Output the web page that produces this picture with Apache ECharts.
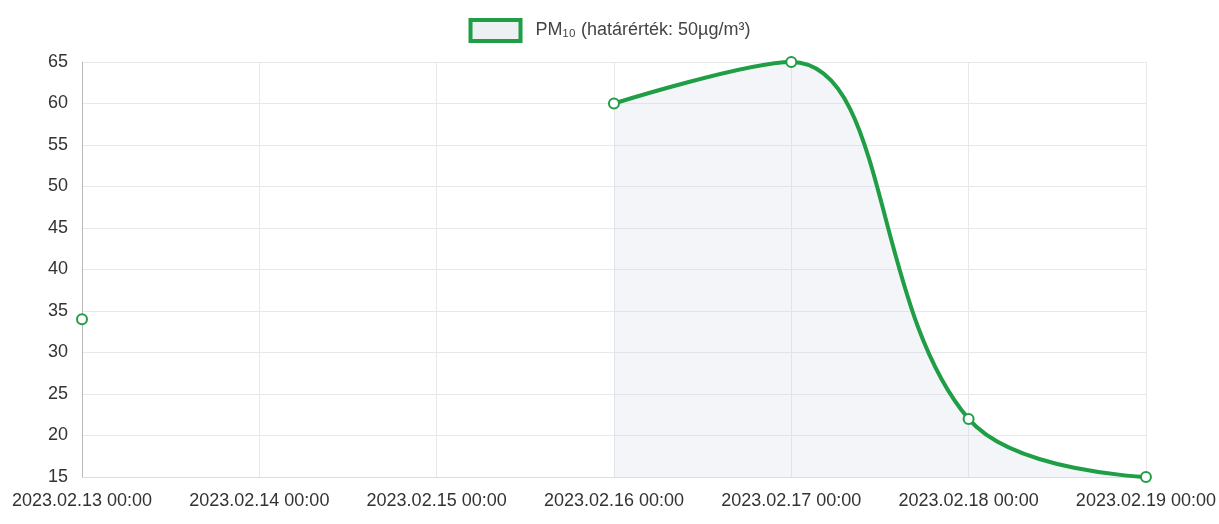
<!DOCTYPE html>
<html>
<head>
<meta charset="utf-8">
<script src="https://cdn.jsdelivr.net/npm/echarts@6/dist/echarts.min.js"></script>
<style>
  html, body { margin: 0; padding: 0; background: #fff; }
  #chart { width: 1219px; height: 524px; }
</style>
</head>
<body>
<div id="chart"></div>
<script>
// dates on the x axis
var dates = [
  '2023.02.13 00:00', '2023.02.14 00:00', '2023.02.15 00:00',
  '2023.02.16 00:00', '2023.02.17 00:00', '2023.02.18 00:00', '2023.02.19 00:00'
];
// PM10 readings, gaps where no data
var pm10 = [34, null, null, 60, 65, 22, 15];
var seriesName = 'PM\u2081\u2080 (határérték: 50µg/m³)';

var green = '#1f9e45';
var font = '"Liberation Sans", Arial, sans-serif';

var chart = echarts.init(document.getElementById('chart'));
chart.setOption({
  animation: false,
  textStyle: { fontFamily: font },
  legend: {
    top: 13,
    left: 'center',
    itemWidth: 50,
    itemHeight: 21,
    textStyle: { fontSize: 18, color: '#444', fontFamily: font, padding: [0, 0, 0, 10] },
    data: [{
      name: seriesName,
      icon: 'rect',
      itemStyle: { color: '#eef1f4', borderColor: green, borderWidth: 4 }
    }]
  },
  grid: { left: 82, right: 71, top: 62, bottom: 47 },
  xAxis: {
    type: 'category',
    data: dates,
    boundaryGap: false,
    axisLine: { lineStyle: { color: '#d8dee6' } },
    axisTick: { show: false },
    axisLabel: { color: '#333', fontSize: 18, margin: 15, interval: 0 },
    splitLine: { show: true, lineStyle: { color: '#e6e8ec' } }
  },
  yAxis: {
    type: 'value',
    min: 15,
    max: 65,
    interval: 5,
    axisLine: { show: true, lineStyle: { color: '#b8b8b8' } },
    axisTick: { show: false },
    axisLabel: { color: '#333', fontSize: 18, margin: 14 },
    splitLine: { lineStyle: { color: '#e6e8ec' } }
  },
  series: [{
    name: seriesName,
    type: 'line',
    data: pm10,
    smooth: 0.4,
    connectNulls: false,
    symbol: 'emptyCircle',
    symbolSize: 10,
    lineStyle: { color: green, width: 4 },
    itemStyle: { color: green, borderColor: green, borderWidth: 2.5 },
    areaStyle: { color: 'rgba(205,215,228,0.35)' }
  }]
});
</script>
</body>
</html>
